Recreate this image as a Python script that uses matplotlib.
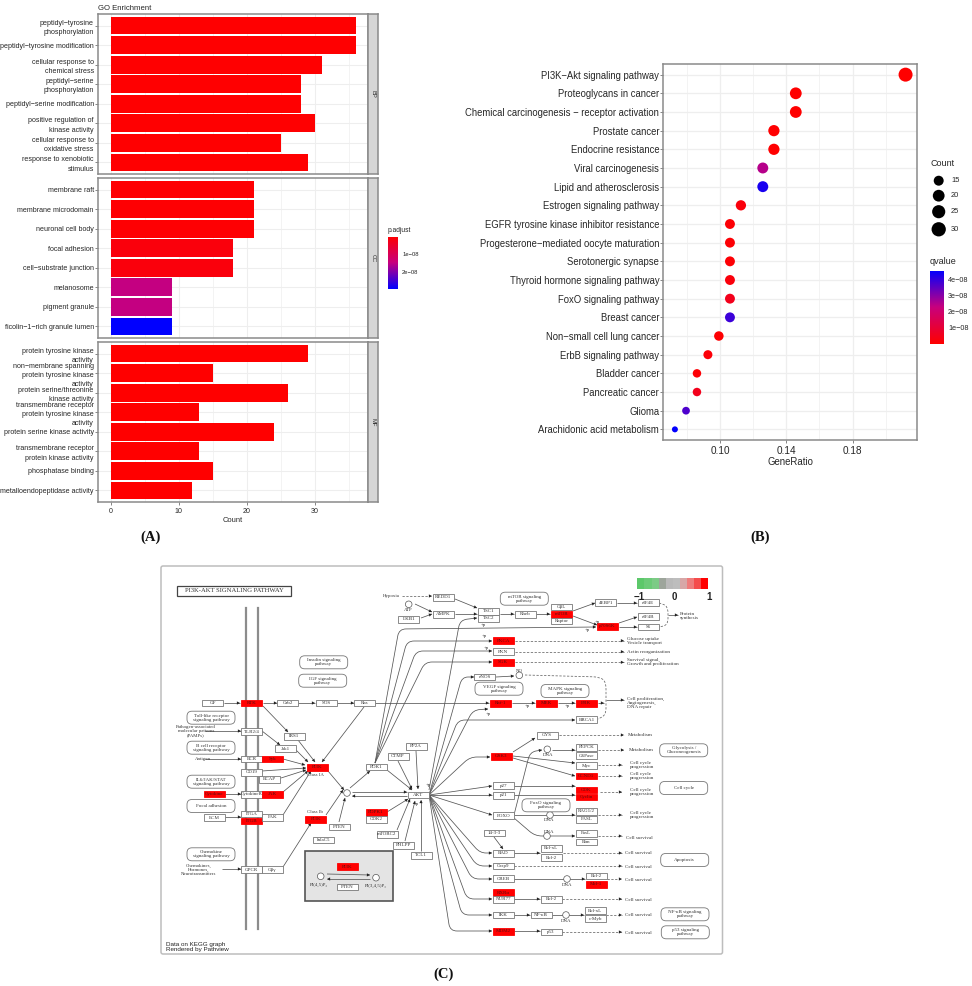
import numpy as np
import matplotlib
matplotlib.use("Agg")
import matplotlib.pyplot as plt
from matplotlib.colors import LinearSegmentedColormap
from matplotlib.patches import FancyBboxPatch, Rectangle, Circle, PathPatch
from matplotlib.path import Path

plt.rcParams['font.family'] = ['Liberation Sans', 'DejaVu Sans']

W, H = 972, 986

# ---- panel A data
bp_terms = ["peptidyl\u2212tyrosine\nphosphorylation", "peptidyl\u2212tyrosine modification",
            "cellular response to\nchemical stress", "peptidyl\u2212serine\nphosphorylation",
            "peptidyl\u2212serine modification", "positive regulation of\nkinase activity",
            "cellular response to\noxidative stress", "response to xenobiotic\nstimulus"]
bp_count = [36, 36, 31, 28, 28, 30, 25, 29]
bp_padj = [0.02, 0.02, 0.02, 0.02, 0.02, 0.02, 0.02, 0.02]
cc_terms = ["membrane raft", "membrane microdomain", "neuronal cell body", "focal adhesion",
            "cell\u2212substrate junction", "melanosome", "pigment granule",
            "ficolin\u22121\u2212rich granule lumen"]
cc_count = [21, 21, 21, 18, 18, 9, 9, 9]
cc_padj = [0.04, 0.04, 0.04, 0.14, 0.14, 1.5, 1.5, 2.95]
mf_terms = ["protein tyrosine kinase\nactivity", "non\u2212membrane spanning\nprotein tyrosine kinase\nactivity",
            "protein serine/threonine\nkinase activity", "transmembrane receptor\nprotein tyrosine kinase\nactivity",
            "protein serine kinase activity", "transmembrane receptor\nprotein kinase activity",
            "phosphatase binding", "metalloendopeptidase activity"]
mf_count = [29, 15, 26, 13, 24, 13, 15, 12]
mf_padj = [0.01, 0.01, 0.01, 0.01, 0.01, 0.01, 0.01, 0.01]
facet_names = ["BP", "CC", "MF"]

# ---- panel B data
kegg_terms = ["PI3K\u2212Akt signaling pathway", "Proteoglycans in cancer",
              "Chemical carcinogenesis \u2212 receptor activation", "Prostate cancer", "Endocrine resistance",
              "Viral carcinogenesis", "Lipid and atherosclerosis", "Estrogen signaling pathway",
              "EGFR tyrosine kinase inhibitor resistance", "Progesterone\u2212mediated oocyte maturation",
              "Serotonergic synapse", "Thyroid hormone signaling pathway", "FoxO signaling pathway",
              "Breast cancer", "Non\u2212small cell lung cancer", "ErbB signaling pathway", "Bladder cancer",
              "Pancreatic cancer", "Glioma", "Arachidonic acid metabolism"]
kegg_ratio = [0.2119, 0.1457, 0.1457, 0.1325, 0.1325, 0.1258, 0.1258, 0.1126, 0.106, 0.106,
              0.106, 0.106, 0.106, 0.106, 0.0993, 0.0927, 0.0861, 0.0861, 0.0795, 0.0728]
kegg_count = [32, 22, 22, 20, 20, 19, 19, 17, 16, 16, 16, 16, 16, 16, 15, 14, 13, 13, 12, 11]
kegg_q = [0.0, 0.0, 0.0, 0.02, 0.02, 2.5, 4.3, 0.2, 0.1, 0.1, 0.1, 0.2, 0.5, 3.9, 0.05, 0.15,
          0.1, 0.5, 3.7, 4.55]
legend_counts = [15, 20, 25, 30]

# ---- panel C: pathway nodes
node_names = ["GF", "RTK", "Grb2", "SOS", "Ras", "TLR2/4", "IRS1", "Jak1", "BCR", "Syk", "PI3K", "CD19", "BCAP",
              "Cytokine", "CytokineR", "JAK", "ITGA", "ITGB", "ECM", "FAK", "PI3K", "PTEN", "InlaC5", "GPCR", "G\u03b2\u03b3",
              "PDK1", "PDPK1", "CDK2", "mTORC2", "PHLPP", "TCL1", "AKT", "PP2A", "CTMP", "PI3K", "PTEN",
              "REDD1", "AMPK", "LKB1", "TSC1", "TSC2", "Rheb", "G\u03b2L", "mTOR", "Raptor", "4EBP1", "eIF4E", "eIF4B",
              "p70S6K", "S6", "PKCA", "PKN", "SGK", "eNOS", "Raf-1", "MEK", "ERK", "BRCA1", "GSK3", "GYS",
              "PEPCK", "G6Pase", "Myc", "CCND1", "CDK", "Cyclin", "p27", "p21", "FOXO", "RAG1/2", "FASL",
              "FasL", "Bim", "14-3-3", "BAD", "Bcl-xL", "Bcl-2", "Casp9", "CREB", "Bcl-2", "Mcl-1", "RXR\u03b1", "NUR77",
              "Bcl-2", "IKK", "NF-\u03baB", "Bcl-xL", "c-Myb", "MDM2", "p53"]
node_x = [212.7, 251.7, 287.7, 326, 364.7, 251.7, 294, 285, 251.7, 272.3, 317, 251.7, 269.7,
          214, 251.7, 272.3, 251.7, 251.7, 214, 272.3, 315.7, 339, 323.7, 251.7, 272.3,
          376, 376, 376, 387, 403.3, 421.3, 418.3, 416, 398, 347, 347,
          443, 443, 408.7, 488.7, 488.7, 525.3, 561.7, 561.7, 561.7, 605.7, 648, 648,
          607.3, 648, 503, 503, 503, 484.7, 500.3, 546.7, 586.3, 586.7, 501, 547,
          586.3, 586.3, 586.3, 586.3, 586.3, 586.3, 503.3, 503.3, 503.3, 586.3, 586.3,
          586.3, 586.3, 494.3, 503.3, 551, 551, 503.3, 503.3, 596, 596, 503.3, 503.3,
          551, 503.3, 541, 595.3, 595.3, 503.3, 551]
node_y = [703, 703, 703, 703, 703, 731.7, 736.3, 748.7, 759, 759, 767.3, 772.3, 779.3,
          794, 794.3, 794.3, 814, 821, 817.7, 817.3, 819.3, 827, 840, 869.7, 869.7,
          767, 812.3, 819.3, 834.3, 845.3, 855.3, 795, 746.3, 756.3, 866.7, 887,
          597.3, 614.3, 619.3, 611.3, 618.3, 614.3, 607, 614.3, 621, 602.7, 602.7, 616.7,
          626.3, 627, 640.7, 651.7, 662.3, 677, 703.3, 703.3, 703.3, 719.7, 756.3, 735.3,
          747.3, 755.7, 765.7, 776, 790, 797, 785.7, 795.3, 815.7, 811.3, 819.3,
          833.3, 842, 833, 853.3, 848.3, 857.7, 866, 878.7, 876, 884.3, 892.7, 899.3,
          899.3, 915, 915, 910.7, 918.7, 931.3, 932]
red_nodes = ["RTK", "Syk", "PI3K", "Cytokine", "JAK", "ITGB", "PDPK1", "mTOR", "p70S6K", "PKCA", "SGK", "Raf-1",
             "MEK", "ERK", "GSK3", "CCND1", "CDK", "Cyclin", "Mcl-1", "RXR\u03b1", "MDM2"]

path_names = ["Insulin signaling\npathway", "IGF signaling\npathway", "Toll-like receptor\nsignaling pathway",
              "B cell receptor\nsignaling pathway", "IL6/JAK/STAT\nsignaling pathway", "Focal adhesion",
              "Chemokine\nsignaling pathway", "mTOR signaling\npathway", "VEGF signaling\npathway",
              "MAPK signaling\npathway", "Glycolysis /\nGluconeogenesis", "FoxO signaling\npathway", "Cell cycle",
              "Apoptosis", "NF-\u03baB signaling\npathway", "p53 signaling\npathway"]
path_x = [323.7, 322.7, 211, 211, 211, 211, 211, 524.3, 499, 565, 683.7, 546, 683.7, 684.7, 685, 685.3]
path_y = [662.3, 680.7, 717.7, 747.7, 781.7, 806, 854.3, 598.7, 688.7, 691, 750.3, 805.3, 788, 860, 914.3, 932.3]

outcome_text = ["Protein\nsynthesis", "Glucose uptake\nVesicle transport", "Actin reorganization",
                "Survival signal,\nGrowth and proliferation", "Cell proliferation,\nAngiogenesis,\nDNA repair",
                "Metabolism", "Metabolism", "Cell cycle\nprogression", "Cell cycle\nprogression",
                "Cell cycle\nprogression", "Cell cycle\nprogression", "Cell survival", "Cell survival", "Cell survival",
                "Cell survival", "Cell survival", "Cell survival", "Cell survival"]
outcome_x = [680, 627, 627, 627, 627, 628, 629, 630, 630, 630, 630, 626, 625, 625, 625, 625, 625, 625]
outcome_y = [616, 640.7, 651.7, 662, 703, 734.5, 750, 765, 776, 792, 815, 837.7, 853.3, 866.7, 880, 899.7, 915, 932.7]

free_text = ["Hypoxia", "ATP", "Class IA", "Class Ib", "PI(4,5)P\u2082", "PI(3,4,5)P\u2083", "Antigen",
             "Pathogen-associated\nmolecular patterns\n(PAMPs)", "Chemokines,\nHormones,\nNeurotransmitters",
             "NO", "DNA", "DNA", "DNA", "DNA", "DNA", "+p", "+p", "+p", "+p", "+p", "+p", "+p", "+p", "+p", "+p"]
free_x = [391, 408, 315, 315, 319, 376, 203, 196, 199, 519, 548, 549, 549, 567, 566,
          483, 597, 587, 484, 486, 527, 567, 488, 428, 416]
free_y = [596, 610, 775, 812, 885, 886, 759, 731, 870, 671, 755, 820, 832, 885, 921,
          625, 622, 630, 636, 648, 706, 706, 714, 785, 804]

# solid edges, each with arrow at the end
edges = [[(224, 703), (240, 703)], [(263, 703), (277, 703)], [(298, 703), (315, 703)], [(337, 703), (354, 703)],
         [(375, 703), (489, 703)], [(263, 706), (288, 732)], [(298, 740), (315, 762)], [(364, 707), (322, 762)],
         [(262, 731), (280, 745)], [(296, 750), (308, 762)], [(283, 759), (305, 765)], [(262, 771), (306, 768)],
         [(281, 778), (306, 770)], [(283, 792), (308, 771)], [(283, 815), (311, 771)], [(225, 794), (241, 794)],
         [(225, 817), (241, 817)], [(283, 867), (311, 823)], [(326, 815), (343, 790)], [(328, 771), (344, 790)],
         [(350, 788), (370, 771)], [(352, 792), (407, 792)], [(407, 796), (352, 796)], [(339, 822), (345, 798)],
         [(387, 770), (412, 790)], [(416, 751), (418, 789)], [(398, 761), (412, 789)], [(387, 812), (408, 799)],
         [(397, 830), (410, 799)], [(405, 841), (415, 801)], [(421, 851), (421, 800)],
         [(429, 795), (470, 757), (490, 757)], [(429, 795), (458, 720), (575, 720)], [(429, 795), (473, 710), (488, 709)],
         [(429, 795), (462, 677), (474, 677)], [(375, 763), (399, 629), (596, 627)], [(375, 763), (407, 641), (492, 641)],
         [(375, 763), (416, 651), (492, 651)], [(375, 763), (425, 662), (492, 662)], [(429, 790), (460, 620), (477, 618)],
         [(429, 795), (492, 815)], [(429, 795), (492, 786)], [(429, 795), (492, 795)], [(429, 795), (480, 853), (492, 853)],
         [(429, 795), (477, 866), (492, 866)], [(429, 795), (472, 879), (492, 879)], [(429, 795), (467, 899), (492, 899)],
         [(429, 795), (462, 915), (492, 915)], [(429, 795), (450, 931), (492, 931)],
         [(455, 599), (477, 608)], [(415, 604), (432, 612)], [(421, 618), (432, 614)], [(455, 614), (477, 614)],
         [(500, 614), (514, 614)], [(536, 614), (550, 614)], [(573, 611), (595, 603)], [(573, 616), (597, 625)],
         [(617, 603), (637, 603)], [(619, 623), (637, 617)], [(619, 627), (637, 627)], [(496, 677), (514, 676)],
         [(512, 703), (535, 703)], [(558, 703), (575, 703)], [(513, 752), (535, 738)], [(513, 756), (575, 763)],
         [(513, 758), (575, 776)], [(514, 815), (530, 752), (542, 750)], [(552, 750), (575, 750)], [(514, 786), (575, 786)],
         [(514, 795), (575, 795)], [(514, 815), (575, 815)], [(514, 818), (535, 836), (575, 836)], [(494, 837), (503, 849)],
         [(514, 853), (540, 853)], [(514, 879), (585, 879)], [(514, 899), (540, 899)], [(514, 915), (530, 915)],
         [(552, 915), (584, 915)], [(514, 931), (540, 931)], [(327, 874), (370, 875)], [(370, 879), (327, 879)],
         [(222, 869), (241, 869)], [(205, 759), (241, 759)], [(205, 731), (241, 731)], [(668, 615), (678, 615)],
         [(598, 703), (604, 703)], [(606, 700), (624, 700)]]

# dashed edges
dashed_edges = [[(402, 596), (432, 596)], [(515, 640.7), (624, 640.7)], [(515, 651.7), (624, 651.7)],
                [(515, 662.3), (624, 662.3)], [(525, 675), (600, 677), (606, 682), (606, 715), (598, 719)],
                [(559, 735), (624, 735)], [(598, 750), (624, 750)], [(598, 765), (622, 765)], [(598, 776), (622, 776)],
                [(600, 792), (622, 792)], [(598, 815), (622, 815)], [(598, 836), (622, 836)], [(563, 853), (622, 853)],
                [(514, 866), (622, 866)], [(607, 879), (622, 879)], [(562, 899), (622, 899)], [(606, 915), (622, 915)],
                [(562, 932), (622, 932)], [(659, 603), (668, 606), (668, 625), (659, 627)]]

circle_x = [347, 408.7, 519.3, 320.7, 376, 547.3, 550, 547, 567, 566]
circle_y = [793, 604.3, 675.3, 876.3, 877.7, 749.3, 815, 836, 879, 915]

kegg_scale_colors = ["#5CC86A", "#6CCB78", "#7CCB86", "#9DA59B", "#B9B9B9", "#BDBDBD", "#D7A7A7", "#EE7C7C", "#F54C4C", "#FF0000"]
kegg_scale_labels = ["\u22121", "0", "1"]

rb_cmap = LinearSegmentedColormap.from_list("rb", ["#FF0000", "#C8007E", "#0000FF"])


def px_axes(fig, l, t, r, b):
    return fig.add_axes([l / W, 1 - b / H, (r - l) / W, (b - t) / H])


fig = plt.figure(figsize=(W / 100, H / 100), dpi=100, facecolor="white")

TXT = "#262626"
BORDER = "#8A8A8A"
GRID = "#EEEEEE"

# ---------- panel A
facets = [(bp_terms, bp_count, bp_padj, 14, 174), (cc_terms, cc_count, cc_padj, 178, 338),
          (mf_terms, mf_count, mf_padj, 342, 502)]
for k, (terms, counts, padj, top, bot) in enumerate(facets):
    ax = px_axes(fig, 98, top, 368, bot)
    pos = np.arange(len(terms))
    ax.set_xlim(-1.86, 37.8)
    ax.set_ylim(len(terms) - 0.4, -0.6)
    ax.set_axisbelow(True)
    ax.set_xticks([0, 10, 20, 30])
    ax.set_xticks([5, 15, 25, 35], minor=True)
    ax.grid(True, which="major", color=GRID, lw=0.8)
    ax.grid(True, which="minor", axis="x", color=GRID, lw=0.5)
    ax.barh(pos, counts, height=0.9, color=rb_cmap(np.array(padj) / 2.95))
    ax.set_yticks(pos)
    ax.set_yticklabels(terms, fontsize=5.1, color=TXT, linespacing=1.45, ha="right")
    ax.tick_params(axis="y", length=2, width=0.5, pad=1, color="#555555")
    ax.tick_params(axis="x", which="minor", length=0)
    if k == 2:
        ax.tick_params(axis="x", which="major", labelsize=5.1, length=2, width=0.5, pad=2, labelcolor=TXT, color="#555555")
        ax.set_xlabel("Count", fontsize=5.4, color=TXT, labelpad=2)
    else:
        ax.tick_params(axis="x", which="major", length=0, labelbottom=False)
    for s in ax.spines.values():
        s.set_color(BORDER)
        s.set_linewidth(1.1)
    if k == 0:
        ax.set_title("GO Enrichment", loc="left", fontsize=5.6, color=TXT, pad=3)
    sx = px_axes(fig, 368, top, 378, bot)
    sx.set_xticks([])
    sx.set_yticks([])
    sx.set_facecolor("#D6D6D6")
    for s in sx.spines.values():
        s.set_color(BORDER)
        s.set_linewidth(1.1)
    sx.text(0.5, 0.5, facet_names[k], rotation=-90, fontsize=4.2, color="#333333", ha="center", va="center",
            transform=sx.transAxes)

# p.adjust legend
lg = px_axes(fig, 388, 237, 398, 289.3)
lg.imshow(np.linspace(0, 1, 128)[:, None], aspect="auto", cmap=rb_cmap, extent=[0, 1, 2.96, 0.06])
lg.set_xticks([])
lg.yaxis.tick_right()
lg.set_yticks([1, 2])
lg.set_yticklabels(["1e\u221208", "2e\u221208"], fontsize=4.2, color=TXT)
lg.tick_params(axis="y", length=0, pad=3)
for s in lg.spines.values():
    s.set_visible(False)
fig.text(388 / W, 1 - 230.7 / H, "p.adjust", fontsize=4.8, color=TXT, va="center")

# ---------- panel B
ax = px_axes(fig, 663.3, 64, 917, 440)
pos = np.arange(len(kegg_terms))
ax.set_xlim(0.0658, 0.2188)
ax.set_ylim(len(kegg_terms) - 0.43, -0.57)
ax.set_axisbelow(True)
ax.set_xticks([0.10, 0.14, 0.18])
ax.set_xticklabels(["0.10", "0.14", "0.18"])
ax.set_xticks([0.08, 0.12, 0.16, 0.20], minor=True)
ax.grid(True, which="major", color=GRID, lw=0.9)
ax.grid(True, which="minor", axis="x", color=GRID, lw=0.5)


def count_size(c):
    d = 6 + 8 * np.sqrt((np.asarray(c, float) - 11) / 21)
    return (d * 0.72) ** 2


ax.scatter(kegg_ratio, pos, s=count_size(kegg_count), c=np.array(kegg_q) / 4.58, cmap=rb_cmap, vmin=0, vmax=1,
           linewidths=0, zorder=3)
ax.set_yticks(pos)
ax.set_yticklabels(kegg_terms, fontsize=6.85, color=TXT)
ax.tick_params(axis="y", length=2, width=0.5, pad=1, color="#555555")
ax.tick_params(axis="x", which="major", labelsize=7.2, length=2, width=0.5, pad=2, labelcolor=TXT, color="#555555")
ax.tick_params(axis="x", which="minor", length=0)
ax.set_xlabel("GeneRatio", fontsize=6.9, color=TXT, labelpad=1)
for s in ax.spines.values():
    s.set_color(BORDER)
    s.set_linewidth(1.1)

cb = px_axes(fig, 930, 270.7, 944, 344)
cb.imshow(np.linspace(1, 0, 128)[:, None], aspect="auto", cmap=rb_cmap, extent=[0, 1, 0, 4.58])
cb.set_xticks([])
cb.yaxis.tick_right()
cb.set_yticks([1, 2, 3, 4])
cb.set_yticklabels(["1e\u221208", "2e\u221208", "3e\u221208", "4e\u221208"], fontsize=5.2, color=TXT)
cb.tick_params(axis="y", length=0, pad=3)
for s in cb.spines.values():
    s.set_visible(False)

# ---------- overlay in pixel coordinates, panel C and legends
ov = fig.add_axes([0, 0, 1, 1], zorder=5)
ov.set_xlim(0, W)
ov.set_ylim(H, 0)
ov.axis("off")
ov.patch.set_alpha(0)

ov.text(930, 164, "Count", fontsize=6.5, color=TXT, va="center")
ov.text(930, 262, "qvalue", fontsize=6.5, color=TXT, va="center")
leg_y = np.array([180.7, 195.7, 211.7, 229.3])
ov.scatter(np.full(4, 938.7), leg_y, s=count_size(legend_counts) * 1.1, c="black", linewidths=0)
for c, y in zip(legend_counts, leg_y):
    ov.text(951, y, str(c), fontsize=5.4, color=TXT, va="center")

for lab, x, y in [("(A)", 151, 537), ("(B)", 760, 537), ("(C)", 444, 974)]:
    ov.text(x, y, lab, family="Liberation Serif", fontweight="bold", fontsize=10.5, ha="center", va="center", color="#111111")

# frame
ov.add_patch(FancyBboxPatch((161, 566), 561.5, 388, boxstyle="round,pad=0,rounding_size=2", fc="white", ec="#BDBDBD", lw=1.1))

# title box
ov.add_patch(Rectangle((176.7, 585.7), 114.6, 10.6, fc="white", ec="#444444", lw=0.9, zorder=3))
ov.text(234, 591, "PI3K-AKT SIGNALING PATHWAY", family="Liberation Serif", fontsize=4.8, ha="center", va="center",
        color="#333333", zorder=4)

# membrane
for x in [245.7, 257.7]:
    ov.plot([x, x], [608, 929], color="#8C8C8C", lw=1.6, zorder=1)

# grey PI3K box
ov.add_patch(Rectangle((304.7, 851.3), 88.6, 49.7, fc="#E4E4E4", ec="#555555", lw=1.2, zorder=1))


def rounded(points, r=7.0):
    verts = [points[0]]
    codes = [Path.MOVETO]
    for i in range(1, len(points) - 1):
        p = np.array(points[i], float)
        a = np.array(points[i - 1], float)
        b = np.array(points[i + 1], float)
        ra = min(r, np.linalg.norm(p - a) / 2)
        rb = min(r, np.linalg.norm(p - b) / 2)
        verts += [p + (a - p) / np.linalg.norm(a - p) * ra, p, p + (b - p) / np.linalg.norm(b - p) * rb]
        codes += [Path.LINETO, Path.CURVE3, Path.CURVE3]
    verts.append(points[-1])
    codes.append(Path.LINETO)
    return Path(verts, codes)


EDGE = "#555555"
for e in edges:
    ov.add_patch(PathPatch(rounded(e), fc="none", ec=EDGE, lw=0.55, zorder=2))
    ov.annotate("", xy=e[-1], xytext=e[-2], zorder=2,
                arrowprops=dict(arrowstyle="-|>,head_width=0.13,head_length=0.25", lw=0, color="#222222",
                                mutation_scale=9, shrinkA=0, shrinkB=0))
for e in dashed_edges:
    ov.add_patch(PathPatch(rounded(e), fc="none", ec="#666666", lw=0.55, ls=(0, (3, 2)), zorder=2))
    if len(e) == 2:
        ov.annotate("", xy=e[-1], xytext=e[-2], zorder=2,
                    arrowprops=dict(arrowstyle="-|>,head_width=0.13,head_length=0.25", lw=0, color="#222222",
                                    mutation_scale=9, shrinkA=0, shrinkB=0))

for x, y in zip(circle_x, circle_y):
    ov.add_patch(Circle((x, y), 3.3, fc="white", ec="#555555", lw=0.5, zorder=3))

for name, x, y in zip(node_names, node_x, node_y):
    red = name in red_nodes
    ov.add_patch(Rectangle((x - 10.5, y - 3.4), 21, 6.8, fc="#FF0000" if red else "white", ec="#FF0000" if red else "#777777",
                           lw=0.6, zorder=3))
    ov.text(x, y, name, family=["Liberation Serif", "DejaVu Serif"], fontsize=3.6, ha="center", va="center",
            color="#5A1010" if red else "#333333", zorder=4)

for name, x, y in zip(path_names, path_x, path_y):
    ov.add_patch(FancyBboxPatch((x - 24, y - 6.5), 48, 13, boxstyle="round,pad=0,rounding_size=5", fc="white", ec="#777777",
                                lw=0.6, zorder=3))
    ov.text(x, y, name, family=["Liberation Serif", "DejaVu Serif"], fontsize=3.6, ha="center", va="center", color="#333333",
            linespacing=0.95, zorder=4)

for name, x, y in zip(outcome_text, outcome_x, outcome_y):
    ov.text(x, y, name, family=["Liberation Serif", "DejaVu Serif"], fontsize=3.7, va="center", color="#333333",
            linespacing=0.95, zorder=4)
for name, x, y in zip(free_text, free_x, free_y):
    ov.text(x, y, name, family=["Liberation Serif", "DejaVu Serif"], fontsize=3.5, ha="center", va="center", color="#333333",
            linespacing=0.95, zorder=4)

ov.text(166, 947, "Data on KEGG graph\nRendered by Pathview", fontsize=4.5, va="center", color="#222222", linespacing=1.05)

# pathview colour scale
n = len(kegg_scale_colors)
edges_x = np.linspace(637.3, 708.3, n + 1)
for i, col in enumerate(kegg_scale_colors):
    ov.add_patch(Rectangle((edges_x[i], 577.7), edges_x[i + 1] - edges_x[i], 11, fc=col, ec="none", zorder=3))
for lab, x in zip(kegg_scale_labels, [639, 674, 709]):
    ov.text(x, 597.5, lab, fontsize=7, ha="center", va="center", color="#222222", fontweight="bold", zorder=4)

fig.savefig("out.png", dpi=100)
